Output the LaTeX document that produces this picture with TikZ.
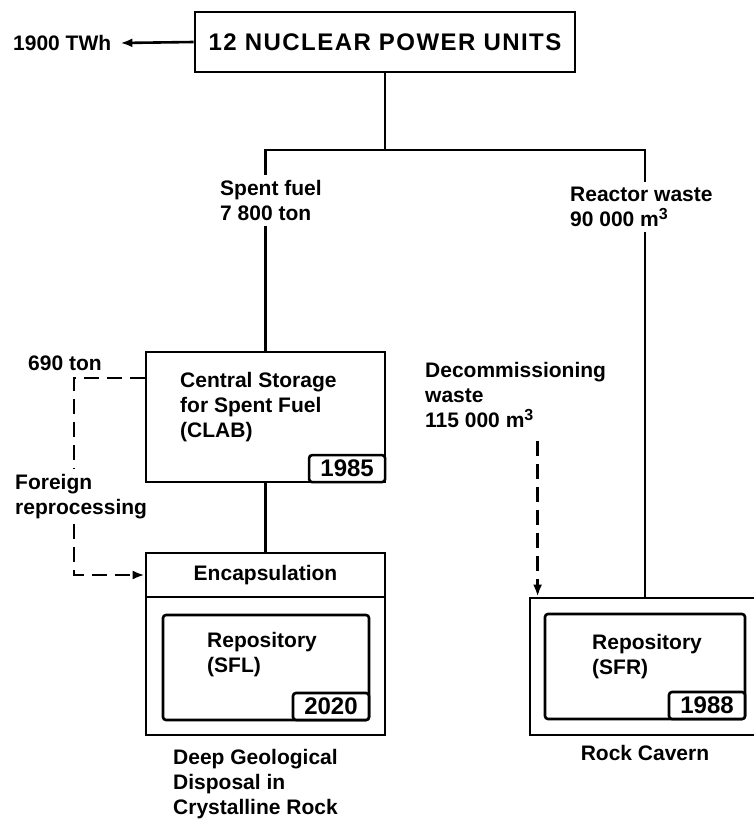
\documentclass[tikz,border=0pt]{standalone}
\usepackage{fontspec}
\setmainfont{Liberation Sans}
\usetikzlibrary{arrows.meta,positioning,calc}
\newcommand{\cubed}{\raisebox{7pt}{\fontsize{16}{16}\selectfont 3}}

\begin{document}
\begin{tikzpicture}[
    x=1pt, y=-1pt,
    font=\fontsize{21}{25}\selectfont\bfseries,
    frame/.style={draw, line width=2.8pt, inner sep=0pt},
    inbox/.style={draw, line width=2.6pt, rounded corners=3pt, inner sep=0pt},
    yearbox/.style={draw, line width=2.6pt, rounded corners=3pt, fill=white, inner sep=0pt,
      minimum width=76pt, minimum height=27pt, anchor=south east, font=\fontsize{24}{28}\selectfont\bfseries},
    lbl/.style={align=left, inner xsep=0pt, inner ysep=5pt, anchor=north west},
    link/.style={line width=2.6pt},
    dashlink/.style={line width=2.6pt, dash pattern=on 15pt off 8pt},
    arr/.style={-{Latex[length=12pt,width=9pt]}}
  ]
  \useasboundingbox (0,0) rectangle (753,824);

  % power units and output
  \node[frame, minimum width=380pt, minimum height=60pt,
    font=\fontsize{24}{28}\selectfont\bfseries\addfontfeatures{LetterSpace=6}] (npu) at (385,42) {12 NUCLEAR POWER UNITS};
  \node[lbl, anchor=west, inner xsep=9pt] (twh) at (4,43) {1900 TWh};
  \draw[link, arr] (npu.west) -- (twh.east);

  % waste streams
  \coordinate (split) at (385,150);
  \node[lbl] (sf) at (220,175) {Spent fuel\\7 800 ton};
  \node[lbl] (rw) at (570,182) {Reactor waste\\90 000 m\cubed};
  \node[lbl] (dw) at (425,357) {Decommissioning\\waste\\115 000 m\cubed};

  % CLAB
  \node[frame, minimum width=239pt, minimum height=130pt] (clab) at (265.5,417) {};
  \node[lbl] (clabtxt) at (180,367) {Central Storage\\for Spent Fuel\\(CLAB)};
  \node[yearbox] (y1985) at (clab.south east) {1985};

  % SFL
  \node[frame, minimum width=239pt, minimum height=44pt] (encap) at (265.5,575) {Encapsulation};
  \node[frame, minimum width=239pt, minimum height=138pt] (sfl) at (265.5,666) {};
  \node[inbox, minimum width=206pt, minimum height=105pt] (sflin) at (266,667.5) {};
  \node[yearbox] (y2020) at (sflin.south east) {2020};
  \node[lbl] (sfltxt) at (207,627) {Repository\\(SFL)};
  \node[lbl] (deep) at (173,744) {Deep Geological\\Disposal in\\Crystalline Rock};

  % SFR
  \node[frame, minimum width=230pt, minimum height=137pt] (sfr) at (645,666.5) {};
  \node[inbox, minimum width=200pt, minimum height=105pt] (sfrin) at (645,666.5) {};
  \node[yearbox] (y1988) at (sfrin.south east) {1988};
  \node[lbl] (sfrtxt) at (592,629) {Repository\\(SFR)};
  \node[lbl, anchor=north] (rock) at (645,740) {Rock Cavern};

  % foreign reprocessing
  \node[lbl, anchor=west] (ft) at (28,363) {690 ton};
  \node[lbl] (fr) at (15,469) {Foreign\\reprocessing};
  \coordinate (fc) at (74,378);
  \coordinate (dwin) at ([xshift=9pt]sfr.north west);

  \draw[link] (npu.south) -- (split);
  \draw[link] (split) -| (sf.north -| clab.north);
  \draw[link] (sf.south -| clab.north) -- (clab.north);
  \draw[link] (split) -| (rw.north -| sfr.north);
  \draw[link] (rw.south -| sfr.north) -- (sfr.north);
  \draw[link] (clab.south) -- (encap.north);
  \draw[dashlink] (fc -| clab.west) -- (fc) -- (fc |- fr.north);
  \draw[dashlink, arr] (fc |- fr.south) |- (encap.west);
  \draw[dashlink, arr] ([yshift=-8pt]dw.south -| dwin) -- (dwin);
\end{tikzpicture}
\end{document}
